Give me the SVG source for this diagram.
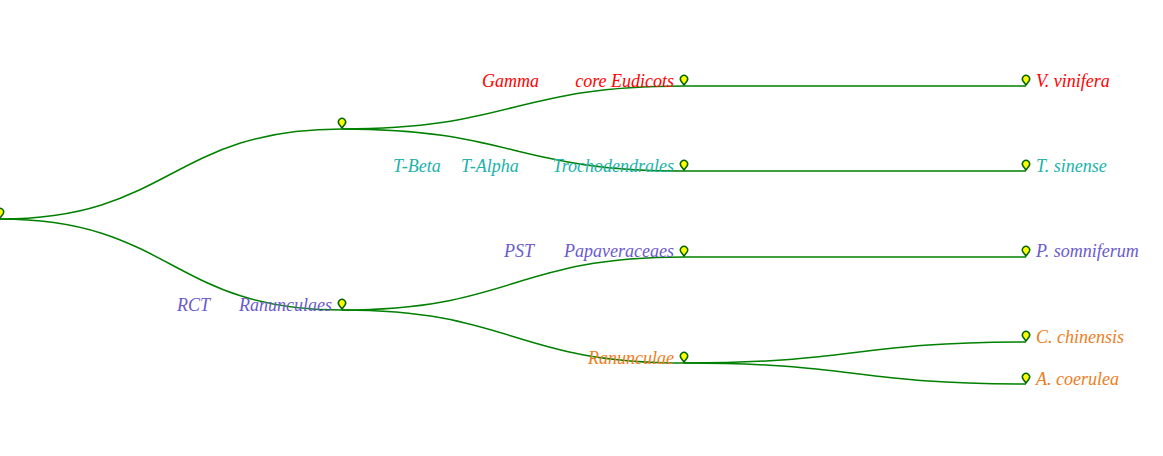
<svg xmlns="http://www.w3.org/2000/svg" width="1163" height="456" viewBox="0 0 1163 456">
<style>
.e{fill:none;stroke:#008000;stroke-width:1.5}
.p{fill:#ffff00;stroke:#006400;stroke-width:1.5}
text{font-family:"Liberation Serif",serif;font-style:italic;font-size:18px}
.r{fill:#ff0000}.t{fill:#20b2aa}.u{fill:#6a5acd}.o{fill:#ee7d22}
</style>
<defs><path id="pin" class="p" d="M0,5 L-3,1 A3.6,3.6 0 1 1 3,1 Z"/></defs>
<g id="connectors">
<path class="e" d="M0,219 C171,219 171,129 342,129"/>
<path class="e" d="M0,219 C171,219 171,310 342,310"/>
<path class="e" d="M342,129 C513,129 513,86 684,86"/>
<path class="e" d="M342,129 C513,129 513,171 684,171"/>
<path class="e" d="M342,310 C513,310 513,257 684,257"/>
<path class="e" d="M342,310 C513,310 513,363 684,363"/>
<path class="e" d="M684,86 H1026"/>
<path class="e" d="M684,171 H1026"/>
<path class="e" d="M684,257 H1026"/>
<path class="e" d="M684,363 C855,363 855,342 1026,342"/>
<path class="e" d="M684,363 C855,363 855,384 1026,384"/>
</g>
<g id="root"><use href="#pin" x="0" y="213"/></g>
<g id="n1"><use href="#pin" x="342" y="123"/></g>
<g id="n2"><use href="#pin" x="342" y="304"/><text class="u" x="177" y="311">RCT</text><text class="u" x="332" y="311" text-anchor="end">Ranunculaes</text></g>
<g id="n3"><use href="#pin" x="684" y="80"/><text class="r" x="482" y="87">Gamma</text><text class="r" x="674" y="87" text-anchor="end">core Eudicots</text></g>
<g id="n4"><use href="#pin" x="684" y="165"/><text class="t" x="393" y="172">T-Beta</text><text class="t" x="461" y="172">T-Alpha</text><text class="t" x="674" y="172" text-anchor="end">Trochodendrales</text></g>
<g id="n5"><use href="#pin" x="684" y="251"/><text class="u" x="504" y="257">PST</text><text class="u" x="674" y="257" text-anchor="end">Papaveraceaes</text></g>
<g id="n6"><use href="#pin" x="684" y="357"/><text class="o" x="674" y="364" text-anchor="end">Ranunculae</text></g>
<g id="l1"><use href="#pin" x="1026" y="80"/><text class="r" x="1036" y="87">V. vinifera</text></g>
<g id="l2"><use href="#pin" x="1026" y="165"/><text class="t" x="1036" y="172">T. sinense</text></g>
<g id="l3"><use href="#pin" x="1026" y="251"/><text class="u" x="1036" y="257">P. somniferum</text></g>
<g id="l4"><use href="#pin" x="1026" y="336"/><text class="o" x="1036" y="343">C. chinensis</text></g>
<g id="l5"><use href="#pin" x="1026" y="378"/><text class="o" x="1036" y="385">A. coerulea</text></g>
</svg>
